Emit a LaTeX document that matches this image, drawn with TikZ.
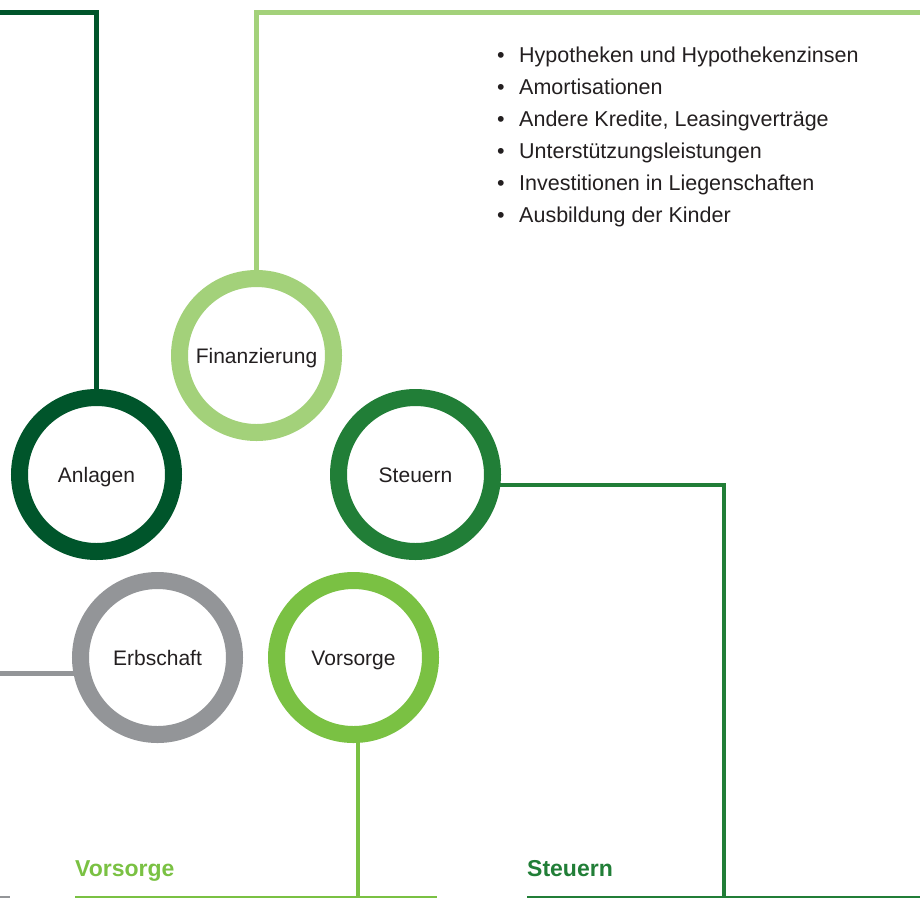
\documentclass[tikz,border=0pt]{standalone}
\usepackage{fontspec}
\setmainfont{Liberation Sans}
\definecolor{anlgreen}{RGB}{0,85,43}
\definecolor{stgreen}{RGB}{33,126,55}
\definecolor{fingreen}{RGB}{163,209,122}
\definecolor{vorgreen}{RGB}{122,193,67}
\definecolor{erbgray}{RGB}{147,149,152}
\definecolor{txt}{RGB}{35,31,32}
\tikzset{
  ring/.style={circle,draw=#1,line width=17pt,fill=white,minimum size=154pt,
    inner sep=0pt,text=txt,font=\fontsize{21pt}{24pt}\selectfont,
    text height=15.4pt,text depth=0pt},
  link/.style={draw=#1,line width=4.7pt},
  heading/.style={anchor=base west,inner sep=0pt,text=#1,
    font=\fontsize{23pt}{26pt}\selectfont\bfseries},
  item/.style={anchor=base west,inner sep=0pt,text=txt,
    font=\fontsize{21.5pt}{24pt}\selectfont}
}
\begin{document}
\begin{tikzpicture}[x=1pt,y=-1pt]
    \useasboundingbox (0,0) rectangle (920,898);

    %%%% Ends of the links %%%%%%%%%%%%%%%%%%%%%%%%%%%%%%%%%%%%%%%%%%%%%%%
    \coordinate (anlEnd) at (0,12.7);
    \coordinate (finEnd) at (920,12.7);
    \coordinate (stEnd)  at (724,898);
    \coordinate (erbEnd) at (0,672.2);
    \coordinate (vorEnd) at (357.5,898);

    %%%% Rings %%%%%%%%%%%%%%%%%%%%%%%%%%%%%%%%%%%%%%%%%%%%%%%%%%%%%%%%%%%
    \node[ring=fingreen] (fin) at (256.5,355.5) {Finanzierung};
    \node[ring=anlgreen] (anl) at (96.5,474.5)  {Anlagen};
    \node[ring=stgreen]  (st)  at (415.5,474.5) {Steuern};
    \node[ring=erbgray]  (erb) at (157.5,657.5) {Erbschaft};
    \node[ring=vorgreen] (vor) at (353.5,657.5) {Vorsorge};

    %%%% Links %%%%%%%%%%%%%%%%%%%%%%%%%%%%%%%%%%%%%%%%%%%%%%%%%%%%%%%%%%%
    \draw[link=anlgreen] (anl.north) |- (anlEnd);
    \draw[link=fingreen] (fin.north) |- (finEnd);
    \draw[link=stgreen]  (st.-7) -| (stEnd);
    \draw[link=erbgray]  (erb.191) -- (erb.191 -| erbEnd);
    \draw[link=vorgreen] (vor.-87) -- (vor.-87 |- vorEnd);

    %%%% List %%%%%%%%%%%%%%%%%%%%%%%%%%%%%%%%%%%%%%%%%%%%%%%%%%%%%%%%%%%%
    \foreach \txt [count=\i] in {Hypotheken und Hypothekenzinsen,
        Amortisationen,{Andere Kredite, Leasingverträge},
        Unterstützungsleistungen,Investitionen in Liegenschaften,
        Ausbildung der Kinder}
    {
      \node[item] (bul\i) at (497,30+32*\i) {\textbullet};
      \node[item] (itm\i) at (519,30+32*\i) {\txt};
    }

    %%%% Headings %%%%%%%%%%%%%%%%%%%%%%%%%%%%%%%%%%%%%%%%%%%%%%%%%%%%%%%%
    \node[heading=vorgreen] (vorHead) at (75,876.7) {Vorsorge};
    \node[heading=stgreen]  (stHead)  at (527,876.7) {Steuern};
    \coordinate (vorUL) at (75,896.8);
    \coordinate (vorUR) at (437,896.8);
    \coordinate (stUL)  at (527,896.8);
    \coordinate (stUR)  at (920,896.8);
    \coordinate (erbUL) at (0,896.8);
    \coordinate (erbUR) at (10,896.8);
    \draw[vorgreen,line width=2pt] (vorUL) -- (vorUR);
    \draw[stgreen,line width=2pt]  (stUL) -- (stUR);
    \draw[erbgray,line width=2pt]  (erbUL) -- (erbUR);
\end{tikzpicture}
\end{document}
